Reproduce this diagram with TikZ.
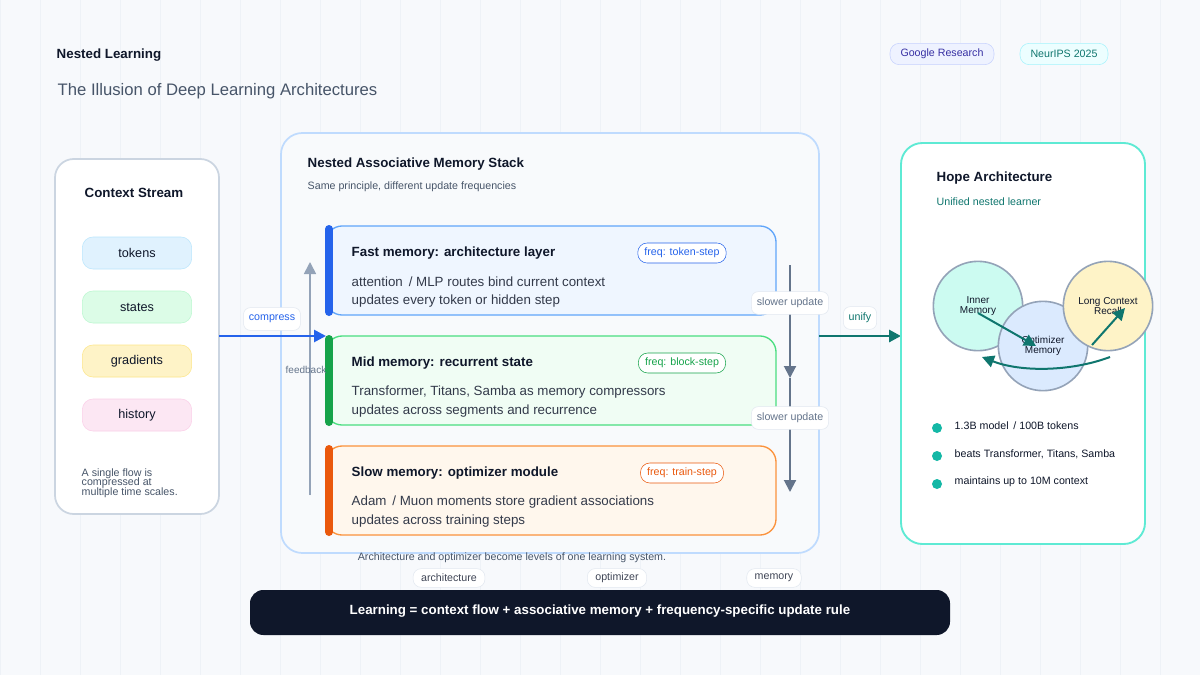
\documentclass[tikz,border=0pt]{standalone}
\usepackage{fontspec}
\setmainfont{Liberation Sans}
\usetikzlibrary{arrows.meta}
\definecolor{bg}{HTML}{F7F9FC}
\definecolor{grid}{HTML}{EEF2F7}
\definecolor{ink}{HTML}{0F172A}
\definecolor{slate}{HTML}{475569}
\definecolor{muted}{HTML}{64748B}
\definecolor{bord}{HTML}{CBD5E1}
\definecolor{teal}{HTML}{0F766E}
\definecolor{indB}{HTML}{C7D2FE}\definecolor{indC}{HTML}{EEF2FF}\definecolor{indT}{HTML}{3730A3}
\definecolor{cyB}{HTML}{A5F3FC}\definecolor{cyC}{HTML}{ECFEFF}
\definecolor{blueA}{HTML}{2563EB}\definecolor{blueB}{HTML}{60A5FA}\definecolor{blueC}{HTML}{EFF6FF}
\definecolor{grnA}{HTML}{16A34A}\definecolor{grnB}{HTML}{4ADE80}\definecolor{grnC}{HTML}{F0FDF4}
\definecolor{orA}{HTML}{EA580C}\definecolor{orB}{HTML}{FB923C}\definecolor{orC}{HTML}{FFF7ED}
\definecolor{p1}{HTML}{E0F2FE}\definecolor{p1b}{HTML}{BAE6FD}
\definecolor{p2}{HTML}{DCFCE7}\definecolor{p2b}{HTML}{BBF7D0}
\definecolor{p3}{HTML}{FEF3C7}\definecolor{p3b}{HTML}{FDE68A}
\definecolor{p4}{HTML}{FCE7F3}\definecolor{p4b}{HTML}{FBCFE8}
\definecolor{stk}{HTML}{BFDBFE}\definecolor{stkf}{HTML}{F8FAFC}
\definecolor{hopeB}{HTML}{5EEAD4}\definecolor{dot}{HTML}{14B8A6}
\definecolor{cIn}{HTML}{CCFBF1}\definecolor{cOp}{HTML}{DBEAFE}\definecolor{cLc}{HTML}{FEF3C7}
\definecolor{cB}{HTML}{94A3B8}\definecolor{pb}{HTML}{E2E8F0}
\tikzset{
 fs/.style={font=\fontsize{#1}{#1}\selectfont},
 pill/.style args={#1/#2}{draw=#2,fill=#1,rounded corners=8pt,minimum height=24pt,minimum width=82pt,fs=9.5,text=ink},
 wpill/.style={draw=#1,fill=white,rounded corners=7pt,minimum height=15pt,inner xsep=5pt,fs=8,text=#1},
 lbl/.style={draw=pb,fill=white,rounded corners=5pt,minimum height=17pt,inner xsep=4pt,fs=8},
 bpill/.style={draw=pb,fill=white,rounded corners=6pt,minimum height=14pt,inner xsep=6pt,fs=8,text=ink!80},
 arr/.style={-{Triangle[length=9pt,width=9pt]}},
 circ/.style={circle,draw=cB,line width=1.2pt,minimum size=67pt,align=center,fs=7.5,text=ink},
}
\begin{document}
\begin{tikzpicture}[x=0.75pt,y=-0.75pt]
\useasboundingbox (0,0) rectangle (1200,675);
\fill[bg] (0,0) rectangle (1200,675);
\draw[grid,line width=0.4pt] (0,0) grid[step=40] (1200,675);
% header
\node[anchor=west,fs=24,font=\bfseries,text=ink] (title) at (52,55) {Nested Learning};
\node[anchor=west,fs=12.5,text=slate] (sub) at (53,91) {The Illusion of Deep Learning Architectures};
\node[draw=indB,fill=indC,rounded corners=7pt,minimum height=16pt,minimum width=78pt,fs=8,text=indT] (g) at (942,54) {Google Research};
\node[draw=cyB,fill=cyC,rounded corners=7pt,minimum height=16pt,minimum width=66pt,fs=8,text=teal] (n) at (1064,54) {NeurIPS 2025};
% context card
\draw[draw=bord,fill=white,rounded corners=14pt,line width=1.3pt] (55,159) rectangle (219,514);
\node[anchor=west,fs=13.5,font=\bfseries,text=ink] (ct) at (80,193) {Context Stream};
\node[pill=p1/p1b] (t1) at (137,253) {tokens};
\node[pill=p2/p2b] (t2) at (137,307) {states};
\node[pill=p3/p3b] (t3) at (137,361) {gradients};
\node[pill=p4/p4b] (t4) at (137,415) {history};
\node[anchor=north west,align=left,fs=8,text=slate] (cn) at (77,464) {A single flow is\\[-1pt]compressed at\\[-1pt]multiple time scales.};
% stack card
\draw[draw=stk,fill=stkf,rounded corners=16pt,line width=1.3pt] (281,133) rectangle (819,553);
\node[anchor=west,fs=13.5,font=\bfseries,text=ink] (st) at (303,164) {Nested Associative Memory Stack};
\node[anchor=west,fs=8,text=slate] (ss) at (303,187) {Same principle, different update frequencies};
\foreach \y/\a/\b/\c/\t/\l/\m/\f [count=\i] in {
 226/blueA/blueB/blueC/{Fast memory: architecture layer}/{attention \,/ MLP routes bind current context}/{updates every token or hidden step}/token-step,
 336/grnA/grnB/grnC/{Mid memory: recurrent state}/{Transformer, Titans, Samba as memory compressors}/{updates across segments and recurrence}/block-step,
 446/orA/orB/orC/{Slow memory: optimizer module}/{Adam \,/ Muon moments store gradient associations}/{updates across training steps}/train-step}{
 \draw[\b,fill=\c,line width=1pt,rounded corners=12pt] (326,\y) rectangle (776,\y+89);
 \draw[\a,line width=6pt,line cap=round] (329,\y+3) -- (329,\y+86);
 \node[anchor=west,fs=12,font=\bfseries,text=ink] (L\i) at (347,\y+27) {\t};
 \node[anchor=west,fs=10,text=ink!85] (La\i) at (347,\y+56) {\l};
 \node[anchor=west,fs=10,text=ink!85] (Lb\i) at (347,\y+75) {\m};
 \node[wpill=\a] (F\i) at (682,\y+27) {freq: \f};
}
% feedback
\coordinate (fb1) at (310,495); \coordinate (fb2) at (310,262);
\draw[arr,draw=cB,fill=cB,line width=1.3pt] (fb1) -- (fb2);
\node[fs=7.5,text=muted] (fbl) at (306,370) {feedback};
% compress
\coordinate (c1) at (219,336); \coordinate (c2) at (326,336);
\draw[arr,blueA,line width=2pt] (c1) -- (c2);
\node[lbl,text=blueA] (cl) at (272,319) {compress};
% slower
\coordinate (s1) at (790,265); \coordinate (s2) at (790,378); \coordinate (s3) at (790,492);
\draw[arr,muted,line width=1.5pt] (s1) -- (s2);
\draw[arr,muted,line width=1.5pt] (s2) -- (s3);
\node[lbl,text=muted] (sl1) at (790,303) {slower update};
\node[lbl,text=muted] (sl2) at (790,418) {slower update};
% unify
\coordinate (u1) at (819,336); \coordinate (u2) at (901,336);
\draw[arr,teal,line width=2.2pt] (u1) -- (u2);
\node[lbl,text=teal] (ul) at (860,318) {unify};
% hope card
\draw[draw=hopeB,fill=white,rounded corners=16pt,line width=1.4pt] (901,143) rectangle (1145,544);
\node[anchor=west,fs=13.5,font=\bfseries,text=ink] (ht) at (932,178) {Hope Architecture};
\node[anchor=west,fs=8,text=teal] (hs) at (932,202) {Unified nested learner};
\node[circ,fill=cIn] (inner) at (978,306) {Inner\\Memory};
\node[circ,fill=cOp] (opt) at (1043,346) {Optimizer\\Memory};
\node[circ,fill=cLc] (lcr) at (1108,306) {Long Context\\Recall};
\coordinate (a1) at (978,313); \coordinate (a2) at (1036,346);
\coordinate (b1) at (1092,345); \coordinate (b2) at (1125,308);
\coordinate (d1) at (1110,357); \coordinate (d2) at (982,357);
\draw[arr,teal,line width=1.5pt] (a1) -- (a2);
\draw[arr,teal,line width=1.5pt] (b1) -- (b2);
\draw[arr,teal,line width=1.5pt] (d1) .. controls (1070,372) and (1020,372) .. (d2);
\foreach \y/\t [count=\i] in {428/{1.3B model \,/ 100B tokens},456/{beats Transformer, Titans, Samba},484/{maintains up to 10M context}}{
 \fill[dot] (937,\y) circle (5);
 \node[anchor=west,fs=8,text=ink] (h\i) at (950,\y-2) {\t};
}
% footer
\node[fs=8,text=slate] (cap) at (512,558) {Architecture and optimizer become levels of one learning system.};
\node[bpill] (q1) at (449,578) {architecture};
\node[bpill] (q2) at (617,578) {optimizer};
\node[bpill] (q3) at (774,578) {memory};
\fill[ink,rounded corners=10pt] (250,590) rectangle (950,635);
\node[fs=9,font=\bfseries,text=white] (bar) at (600,611) {Learning = context flow + associative memory + frequency-specific update rule};
\end{tikzpicture}
\end{document}
